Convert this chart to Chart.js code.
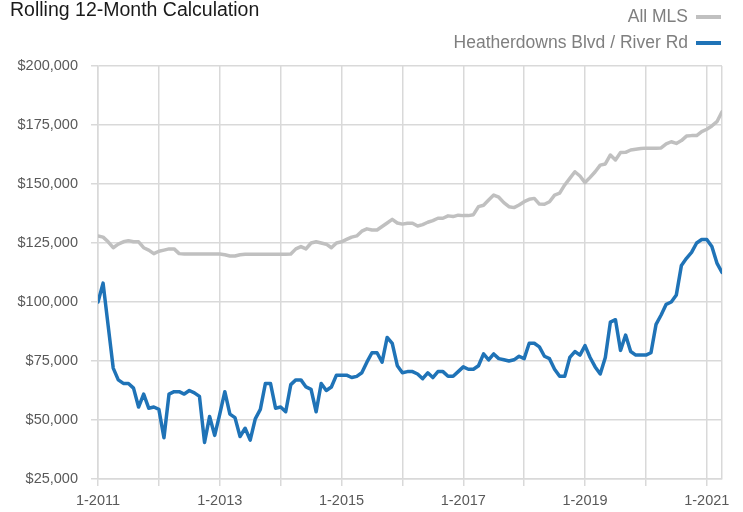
<!DOCTYPE html>
<html>
<head>
<meta charset="utf-8">
<title>Rolling 12-Month Calculation</title>
<script src="https://cdn.jsdelivr.net/npm/chart.js@4.4.1/dist/chart.umd.min.js"></script>
<style>
  html, body { margin: 0; padding: 0; background: #fff; }
  #wrap { position: relative; width: 743px; height: 512px; overflow: hidden; }
  #chart { position: absolute; left: 0; top: 0; }
  .title {
    position: absolute; left: 10px; top: 0px;
    font: 19.5px/1 "Liberation Sans", Arial, sans-serif; color: #1a1a1a;
    white-space: nowrap;
  }
  .legend { position: absolute; right: 22px; top: 4px; }
  .legend-row {
    display: flex; align-items: center; justify-content: flex-end;
    height: 26px; font: 17.5px/1 "Liberation Sans", Arial, sans-serif; color: #7f7f7f;
    white-space: nowrap;
  }
  .legend-row .swatch { display: inline-block; width: 25px; height: 4px; margin-left: 8px; }
</style>
</head>
<body>
<div id="wrap">
  <canvas id="chart" width="743" height="512"></canvas>
  <div class="title">Rolling 12-Month Calculation</div>
  <div class="legend">
    <div class="legend-row"><span>All MLS</span><span class="swatch" style="background:#c0c0c0"></span></div>
    <div class="legend-row"><span>Heatherdowns Blvd / River Rd</span><span class="swatch" style="background:#1f73b7"></span></div>
  </div>
</div>
<script>
// Monthly rolling 12-month average price, Jan 2011 .. Apr 2021 (124 months)
const START_YEAR = 2011;
const MONTHS = 124;

const ALL_MLS = [
  128000, 127500, 125500, 123000, 124500, 125500, 126000, 125500, 125500, 123000, 122000, 120500,
  121500, 122000, 122500, 122500, 120500, 120300, 120300, 120300, 120300, 120300, 120300, 120300,
  120300, 120000, 119500, 119500, 120000, 120200, 120200, 120200, 120200, 120200, 120200, 120200,
  120200, 120200, 120300, 122500, 123500, 122500, 125000, 125500, 125000, 124500, 123000, 125000,
  125500, 126500, 127500, 128000, 130000, 131000, 130500, 130500, 132000, 133500, 135000, 133500,
  133000, 133400, 133400, 132200, 132800, 133800, 134500, 135500, 135500, 136500, 136200, 136800,
  136600, 136600, 137000, 140400, 141000, 143200, 145300, 144400, 142100, 140400, 140000, 141100,
  142500, 143500, 143900, 141500, 141400, 142500, 145300, 146100, 149600, 152400, 155200, 153400,
  150600, 152800, 155200, 158000, 158500, 162300, 160200, 163300, 163400, 164400, 164700, 165000,
  165200, 165100, 165100, 165300, 167000, 167900, 167200, 168400, 170300, 170500, 170500, 172200,
  173200, 174600, 176400, 180600,
];

const HEATHERDOWNS = [
  100000, 108000, 90000, 72000, 67000, 65500, 65500, 63500, 55500, 61000, 55000, 55500,
  54500, 42500, 61000, 62000, 62000, 61000, 62500, 61500, 60000, 40500, 51500, 43500,
  52500, 62000, 52500, 51000, 43000, 46500, 41500, 50500, 54500, 65500, 65500, 55000,
  55500, 53500, 65000, 67000, 67000, 64000, 63000, 53500, 65500, 62500, 64000, 69000,
  69000, 69000, 68000, 68500, 70000, 74500, 78500, 78500, 74500, 85000, 82500, 73000,
  70000, 70500, 70500, 69500, 67500, 70000, 68000, 70500, 70500, 68500, 68500, 70500,
  72500, 71500, 71500, 73000, 78000, 75500, 78000, 76000, 75500, 75000, 75500, 77000,
  76000, 82500, 82500, 81000, 77000, 76000, 71500, 68500, 68500, 76500, 79000, 77500,
  81500, 76500, 72500, 69500, 76500, 91500, 92500, 79500, 86000, 79000, 77500, 77500,
  77500, 78500, 90500, 94500, 99000, 100000, 103000, 115500, 118500, 121000, 125000, 126500,
  126500, 123500, 116500, 112500,
];

// gridline every January, label every other January
const YEAR_TICKS = [0, 12, 24, 36, 48, 60, 72, 84, 96, 108, 120];
const Y_MIN = 25000;
const Y_MAX = 200000;
const Y_STEP = 25000;

const GRAY = '#c0c0c0';
const BLUE = '#1f73b7';
const GRID = '#d9d9d9';
const TICK_FONT = { family: "'Liberation Sans', Arial, sans-serif", size: 14.5 };

const toPoints = (arr) => arr.map((v, i) => ({ x: i, y: v }));
const fmtMoney = (v) => '$' + v.toLocaleString('en-US');

new Chart(document.getElementById('chart').getContext('2d'), {
  type: 'line',
  data: {
    datasets: [
      {
        label: 'Heatherdowns Blvd / River Rd',
        data: toPoints(HEATHERDOWNS),
        borderColor: BLUE,
        borderWidth: 3.5,
        pointRadius: 0,
        tension: 0,
        borderJoinStyle: 'round',
        borderCapStyle: 'round',
        order: 0,
      },
      {
        label: 'All MLS',
        data: toPoints(ALL_MLS),
        borderColor: GRAY,
        borderWidth: 3.5,
        pointRadius: 0,
        tension: 0,
        borderJoinStyle: 'round',
        borderCapStyle: 'round',
        order: 1,
      },
    ],
  },
  options: {
    responsive: false,
    animation: false,
    devicePixelRatio: 1,
    layout: { padding: { top: 66, right: 21, left: 0, bottom: 0 } },
    plugins: { legend: { display: false }, tooltip: { enabled: false } },
    scales: {
      x: {
        type: 'linear',
        min: 0,
        max: MONTHS - 1,
        afterBuildTicks(scale) {
          scale.ticks = YEAR_TICKS.concat([MONTHS - 1]).map((value) => ({ value }));
        },
        afterFit(scale) { scale.height = 33; },
        grid: {
          color: GRID,
          lineWidth: 1.5,
          tickLength: 7,
          tickColor: (ctx) => (ctx.tick && ctx.tick.value === MONTHS - 1 ? 'rgba(0,0,0,0)' : GRID),
        },
        border: { color: GRID, width: 1.5 },
        ticks: {
          autoSkip: false,
          maxRotation: 0,
          padding: 6,
          color: '#595959',
          font: TICK_FONT,
          callback(v) {
            if (v % 24 !== 0) return '';
            return '1-' + (START_YEAR + v / 12);
          },
        },
      },
      y: {
        min: Y_MIN,
        max: Y_MAX,
        afterFit(scale) { scale.width = 98; },
        grid: { color: GRID, lineWidth: 1.5, tickLength: 7 },
        border: { color: GRID, width: 1.5 },
        ticks: {
          stepSize: Y_STEP,
          padding: 13,
          color: '#595959',
          font: TICK_FONT,
          callback: (v) => fmtMoney(v),
        },
      },
    },
  },
});
</script>
</body>
</html>
